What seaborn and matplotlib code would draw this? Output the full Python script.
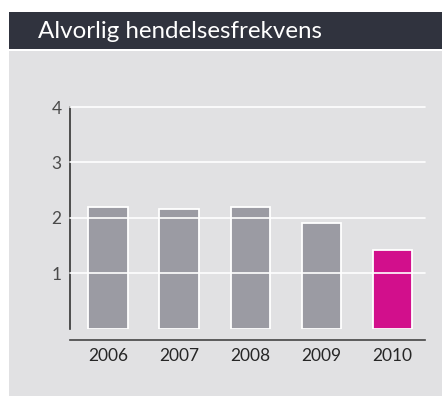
import matplotlib
matplotlib.use("Agg")
import matplotlib.pyplot as plt
import seaborn as sns
import pandas as pd
from matplotlib.patches import Rectangle

years = ["2006", "2007", "2008", "2009", "2010"]
values = [2.2, 2.15, 2.2, 1.91, 1.42]
bar_colors = ["#9b9ba3", "#9b9ba3", "#9b9ba3", "#9b9ba3", "#d20f8c"]
y_ticks = [1, 2, 3, 4]
title = "Alvorlig hendelsesfrekvens"

sns.set_style("white")
plt.rcParams["font.family"] = ["Lato", "DejaVu Sans"]

W, H = 442, 396
fig = plt.figure(figsize=(W / 100, H / 100), dpi=100, facecolor="white")

# header band and panel
fig.patches.append(Rectangle((9 / W, 1 - 49 / H), 1 - 9 / W, 37 / H,
                             transform=fig.transFigure, facecolor="#30333e",
                             edgecolor="none", zorder=-10))
fig.patches.append(Rectangle((9 / W, 0), 1 - 9 / W, 1 - 51 / H,
                             transform=fig.transFigure, facecolor="#e1e1e3",
                             edgecolor="none", zorder=-10))
fig.text(38 / W, 1 - 31 / H, title, color="white", fontsize=17.4,
         fontweight="normal", va="center", ha="left", zorder=5)

ax = fig.add_axes([70 / W, 1 - 328.5 / H, (425 - 70) / W, (328.5 - 107) / H])
ax.set_facecolor("none")

df = pd.DataFrame({"year": years, "value": values})
sns.barplot(data=df, x="year", y="value", hue="year", palette=bar_colors,
            legend=False, width=0.55, edgecolor="white", linewidth=1.3,
            saturation=1, ax=ax)

ax.set_xlim(-0.534, 4.46)
ax.set_ylim(0, 4)
ax.set_yticks(y_ticks)
ax.set_yticklabels([str(t) for t in y_ticks])
ax.grid(axis="y", color="white", linewidth=1.2)
ax.set_axisbelow(False)
for gl in ax.get_ygridlines():
    gl.set_clip_on(False)

ax.set_xlabel("")
ax.set_ylabel("")
ax.tick_params(axis="both", length=0, labelsize=12.5)
ax.tick_params(axis="y", pad=6)
ax.tick_params(axis="x", pad=6)
for lab in ax.get_xticklabels() + ax.get_yticklabels():
    lab.set_fontweight("normal")
    lab.set_color("#4a4a4a")

for s in ["top", "right"]:
    ax.spines[s].set_visible(False)
ax.spines["left"].set_color("#333333")
ax.spines["left"].set_linewidth(1.2)
ax.spines["bottom"].set_color("#444444")
ax.spines["bottom"].set_linewidth(1.2)
ax.spines["bottom"].set_position(("outward", 8))

fig.savefig("out.png", dpi=100, facecolor="white")
